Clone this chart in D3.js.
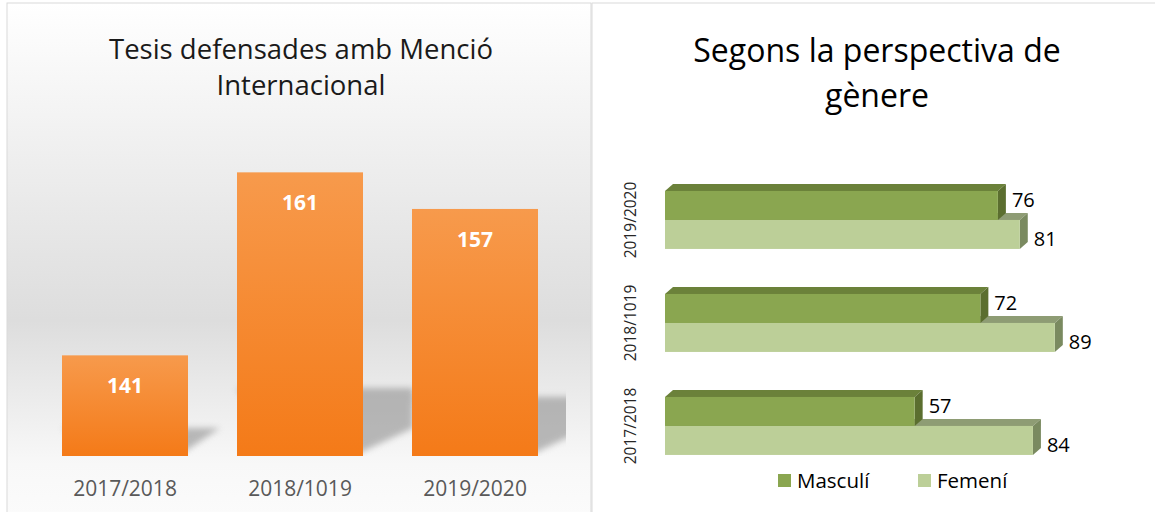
<!DOCTYPE html>
<html>
<head>
<meta charset="utf-8">
<script src="https://cdn.jsdelivr.net/npm/d3@7.9.0/dist/d3.min.js"></script>
<style>
  html, body { margin: 0; padding: 0; background: #ffffff; }
  svg { display: block; }
  text { font-family: "Open Sans", "DejaVu Sans", sans-serif; }
</style>
</head>
<body>
<svg id="chart" width="1155" height="512"></svg>
<script>
// Left chart: theses with International Mention
const years = ["2017/2018", "2018/1019", "2019/2020"];
const theses = [141, 161, 157];

// Right chart: by gender
const genderYears = ["2019/2020", "2018/1019", "2017/2018"];
const series = ["Masculí", "Femení"];
const masculi = [76, 72, 57];   // same order as genderYears
const femeni = [81, 89, 84];

const svg = d3.select("#chart");
const defs = svg.append("defs");

// ---------- gradients & filters ----------
const bg = defs.append("linearGradient").attr("id", "leftBg")
    .attr("x1", 0).attr("y1", 0).attr("x2", 0).attr("y2", 1);
bg.append("stop").attr("offset", "0%").attr("stop-color", "#ffffff");
bg.append("stop").attr("offset", "62%").attr("stop-color", "#dddddd");
bg.append("stop").attr("offset", "90%").attr("stop-color", "#f8f8f8");
bg.append("stop").attr("offset", "100%").attr("stop-color", "#fbfbfb");

const og = defs.append("linearGradient").attr("id", "orangeGrad")
    .attr("x1", 0).attr("y1", 0).attr("x2", 0).attr("y2", 1);
og.append("stop").attr("offset", "0%").attr("stop-color", "#f79a4c");
og.append("stop").attr("offset", "100%").attr("stop-color", "#f47a18");

defs.append("filter").attr("id", "blur")
    .attr("x", "-30%").attr("y", "-30%").attr("width", "160%").attr("height", "160%")
    .append("feGaussianBlur").attr("stdDeviation", 3);

defs.append("clipPath").attr("id", "plotClip")
    .append("rect").attr("x", 20).attr("y", 100).attr("width", 546).attr("height", 356);

// ---------- left panel ----------
const left = { x: 7, y: 3, w: 584, h: 512 };
svg.append("rect")
    .attr("x", left.x).attr("y", left.y)
    .attr("width", left.w).attr("height", left.h)
    .attr("fill", "url(#leftBg)")
    .attr("stroke", "#d9d9d9").attr("stroke-width", 1);

svg.append("text")
    .attr("x", 301).attr("y", 59)
    .attr("text-anchor", "middle")
    .style("font-size", "27.5px").style("fill", "#1a1a1a")
    .text("Tesis defensades amb Menció");
svg.append("text")
    .attr("x", 301).attr("y", 95)
    .attr("text-anchor", "middle")
    .style("font-size", "27.5px").style("fill", "#1a1a1a")
    .text("Internacional");

const baseY = 456;
const x = d3.scaleBand()
    .domain(years)
    .range([37.5, 562.5])
    .paddingInner(0.28)
    .paddingOuter(0.14);

const y = d3.scaleLinear()
    .domain([130, 165])
    .range([baseY, baseY - 35 * 9.15]);

// shadows behind bars
svg.append("g").attr("clip-path", "url(#plotClip)")
  .selectAll("path")
    .data(years)
    .join("path")
    .attr("d", (d, i) => {
        const xl = x(d), xr = x(d) + x.bandwidth();
        const h = baseY - y(theses[i]);
        const sh = Math.max(28, h * 0.24);
        const w = h > 150 ? 50 : 32;
        return `M${xl + 40},${baseY} L${xl},${baseY - sh} L${xr + w},${baseY - sh} L${xr + w},${baseY - 28} L${xr - 10},${baseY} Z`;
    })
    .attr("fill", "#8f8f8f")
    .attr("opacity", 0.6)
    .attr("filter", "url(#blur)");

svg.append("g").selectAll("rect")
    .data(years)
    .join("rect")
    .attr("x", d => x(d))
    .attr("y", (d, i) => y(theses[i]))
    .attr("width", x.bandwidth())
    .attr("height", (d, i) => baseY - y(theses[i]))
    .attr("fill", "url(#orangeGrad)");

svg.append("g").selectAll("text")
    .data(years)
    .join("text")
    .attr("x", d => x(d) + x.bandwidth() / 2)
    .attr("y", (d, i) => y(theses[i]) + 38)
    .attr("text-anchor", "middle")
    .style("font-size", "21px").style("font-weight", "bold").style("fill", "#ffffff")
    .text((d, i) => theses[i]);

// x axis (labels only)
const xAxis = svg.append("g")
    .attr("transform", `translate(0,${baseY})`)
    .call(d3.axisBottom(x).tickSize(0).tickPadding(25));
xAxis.select(".domain").remove();
xAxis.selectAll("text")
    .style("font-family", "'Open Sans', sans-serif")
    .style("font-size", "21px").style("fill", "#595959");

// ---------- right panel ----------
svg.append("line")
    .attr("x1", 592).attr("x2", 592).attr("y1", 3).attr("y2", 512)
    .attr("stroke", "#d9d9d9");
svg.append("line")
    .attr("x1", 592).attr("x2", 1155).attr("y1", 3).attr("y2", 3)
    .attr("stroke", "#d9d9d9");

svg.append("text")
    .attr("x", 877).attr("y", 62)
    .attr("text-anchor", "middle")
    .style("font-size", "32px").style("fill", "#000000")
    .text("Segons la perspectiva de");
svg.append("text")
    .attr("x", 877).attr("y", 107)
    .attr("text-anchor", "middle")
    .style("font-size", "32px").style("fill", "#000000")
    .text("gènere");

const x0 = 665;
const hx = d3.scaleLinear().domain([0, 100]).range([x0, x0 + 438]);

const gy = d3.scaleBand()
    .domain(genderYears)
    .range([168.3, 477.6])
    .paddingInner(0.437)
    .paddingOuter(0.22);

const sy = d3.scaleBand()
    .domain(series)
    .range([0, gy.bandwidth()]);

const depthX = 8, depthY = 7;
const styles = {
    "Masculí": { front: "#8aa650", top: "#6b813a", side: "#5b6e2f" },
    "Femení": { front: "#bccf98", top: "#8e9c74", side: "#7a8a60" }
};
const values = { "Masculí": masculi, "Femení": femeni };

// draw Femení first so Masculí front covers its top face
const bars = [];
genderYears.forEach((yr, i) => {
    ["Femení", "Masculí"].forEach(s => {
        bars.push({ yr, s, v: values[s][i] });
    });
});

const barG = svg.append("g");
bars.forEach(b => {
    const by = gy(b.yr) + sy(b.s);
    const bh = sy.bandwidth();
    const xe = hx(b.v);
    const st = styles[b.s];
    const g = barG.append("g");
    // top face
    g.append("path")
        .attr("d", `M${x0},${by} L${x0 + depthX},${by - depthY} L${xe + depthX},${by - depthY} L${xe},${by} Z`)
        .attr("fill", st.top);
    // side face
    g.append("path")
        .attr("d", `M${xe},${by} L${xe + depthX},${by - depthY} L${xe + depthX},${by + bh - depthY} L${xe},${by + bh} Z`)
        .attr("fill", st.side);
    // front face
    g.append("rect")
        .attr("x", x0).attr("y", by)
        .attr("width", xe - x0).attr("height", bh)
        .attr("fill", st.front);
});

// value labels
svg.append("g").selectAll("text")
    .data(bars)
    .join("text")
    .attr("x", d => hx(d.v) + depthX + 6)
    .attr("y", d => gy(d.yr) + sy(d.s) + sy.bandwidth() / 2 + (d.s === "Masculí" ? 2 : 12))
    .style("font-size", "20px").style("fill", "#000000")
    .text(d => d.v);

// category axis (rotated labels)
svg.append("g").selectAll("text")
    .data(genderYears)
    .join("text")
    .attr("transform", d => `translate(636,${gy(d) + gy.bandwidth() / 2}) rotate(-90)`)
    .attr("text-anchor", "middle")
    .style("font-size", "15.5px").style("fill", "#262626")
    .text(d => d);

// legend
const legend = svg.append("g").attr("transform", "translate(778,474)");
const legX = [0, 140];
series.forEach((s, i) => {
    legend.append("rect")
        .attr("x", legX[i]).attr("y", 0)
        .attr("width", 13).attr("height", 13)
        .attr("fill", styles[s].front);
    legend.append("text")
        .attr("x", legX[i] + 19).attr("y", 14)
        .style("font-size", "20.5px").style("fill", "#000000")
        .text(s);
});
</script>
</body>
</html>
